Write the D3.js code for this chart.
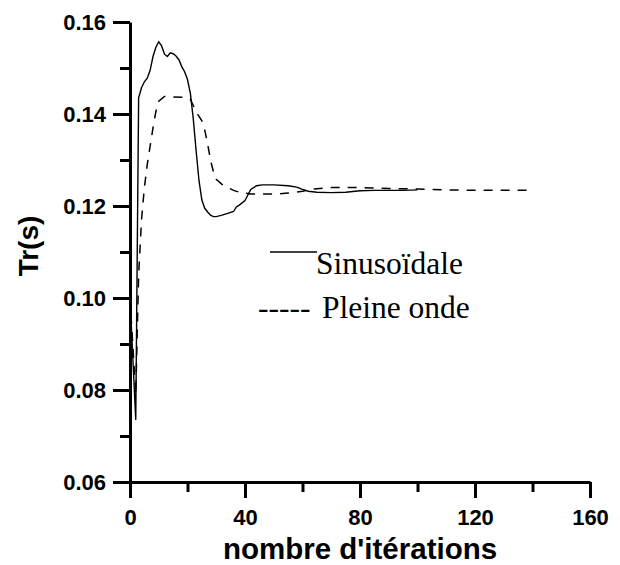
<!DOCTYPE html>
<html>
<head>
<meta charset="utf-8">
<script src="https://cdn.jsdelivr.net/npm/d3@7"></script>
<style>
  body { margin: 0; background: #fff; }
  svg { display: block; }
</style>
</head>
<body>
<svg id="chart" width="620" height="565"></svg>
<script>
// Response time Tr(s) versus iteration count, two supply modes.
const sinusIter = [0, 2, 3, 4, 5, 6, 7, 8, 9, 10, 11, 12, 13, 14, 15, 16, 17, 18, 19, 20, 21, 22, 23, 24, 25, 26, 27, 28, 29, 30, 32, 34, 36, 37, 38, 40, 42, 44, 46, 50, 55, 58, 60, 62, 65, 70, 75, 80, 85, 90, 95, 100];
const sinusTr = [0.100, 0.0735, 0.1435, 0.1457, 0.1470, 0.1478, 0.1495, 0.1525, 0.1545, 0.1557, 0.1548, 0.1530, 0.1525, 0.1533, 0.1531, 0.1526, 0.1518, 0.1503, 0.1492, 0.1475, 0.1445, 0.1390, 0.1320, 0.1255, 0.1213, 0.1195, 0.1187, 0.1180, 0.1177, 0.1177, 0.1180, 0.1184, 0.1188, 0.1198, 0.1202, 0.1212, 0.1236, 0.1244, 0.1246, 0.1246, 0.1244, 0.1241, 0.1236, 0.1232, 0.1230, 0.1229, 0.1230, 0.1233, 0.1234, 0.1234, 0.1234, 0.1235];

const pleineIter = [0, 2, 3, 4, 5, 6, 7, 8, 9, 10, 12, 15, 20, 21, 23, 25, 26, 27, 28, 29, 30, 32, 34, 36, 38, 42, 50, 55, 60, 64, 70, 80, 90, 100, 110, 120, 130, 138];
const pleineTr = [0.100, 0.0790, 0.1050, 0.1170, 0.1240, 0.1290, 0.1330, 0.1370, 0.1405, 0.1428, 0.1438, 0.1437, 0.1436, 0.1432, 0.1405, 0.1385, 0.1365, 0.1335, 0.1300, 0.1275, 0.1258, 0.1247, 0.1240, 0.1234, 0.1230, 0.1226, 0.1226, 0.1228, 0.1232, 0.1237, 0.1240, 0.1240, 0.1238, 0.1237, 0.1235, 0.1234, 0.1234, 0.1234];

const xMajorTicks = [0, 40, 80, 120, 160];
const xMinorTicks = [20, 60, 100, 140];
const yMajorTicks = [0.06, 0.08, 0.10, 0.12, 0.14, 0.16];
const yMinorTicks = [0.07, 0.09, 0.11, 0.13, 0.15];

const legendLabels = ["Sinusoïdale", "Pleine onde"];
const xTitle = "nombre d'itérations";
const yTitle = "Tr(s)";

const svg = d3.select("#chart");
const plot = { left: 130, right: 590, top: 22, bottom: 482 };

const x = d3.scaleLinear().domain([0, 160]).range([plot.left, plot.right]);
const y = d3.scaleLinear().domain([0.06, 0.16]).range([plot.bottom, plot.top]);

const tickFont = "'Liberation Sans', Arial, sans-serif";

// Minor ticks
svg.append("g")
  .attr("transform", `translate(0,${plot.bottom})`)
  .call(d3.axisBottom(x).tickValues(xMinorTicks).tickSize(10).tickSizeOuter(0).tickFormat(""))
  .call(g => g.select(".domain").remove())
  .call(g => g.selectAll("line").attr("stroke", "#000").attr("stroke-width", 3));
svg.append("g")
  .attr("transform", `translate(${plot.left},0)`)
  .call(d3.axisLeft(y).tickValues(yMinorTicks).tickSize(10).tickSizeOuter(0).tickFormat(""))
  .call(g => g.select(".domain").remove())
  .call(g => g.selectAll("line").attr("stroke", "#000").attr("stroke-width", 3));

// Major ticks with labels
const xAxis = svg.append("g")
  .attr("transform", `translate(0,${plot.bottom})`)
  .call(d3.axisBottom(x).tickValues(xMajorTicks).tickSize(16).tickSizeOuter(0).tickPadding(11).tickFormat(d3.format("d")));
const yAxis = svg.append("g")
  .attr("transform", `translate(${plot.left},0)`)
  .call(d3.axisLeft(y).tickValues(yMajorTicks).tickSize(17).tickSizeOuter(0).tickPadding(7).tickFormat(d3.format(".2f")));

[xAxis, yAxis].forEach(g => {
  g.select(".domain").attr("stroke", "#000").attr("stroke-width", 3);
  g.selectAll(".tick line").attr("stroke", "#000").attr("stroke-width", 3);
  g.selectAll(".tick text")
    .attr("fill", "#000")
    .style("font-family", tickFont)
    .style("font-weight", "bold")
    .style("font-size", "22px");
});

// Axis titles
svg.append("text")
  .attr("x", (plot.left + plot.right) / 2)
  .attr("y", 559)
  .attr("text-anchor", "middle")
  .style("font-family", tickFont)
  .style("font-weight", "bold")
  .style("font-size", "29.5px")
  .text(xTitle);
svg.append("text")
  .attr("transform", `translate(38,246) rotate(-90)`)
  .attr("text-anchor", "middle")
  .style("font-family", tickFont)
  .style("font-weight", "bold")
  .style("font-size", "28px")
  .text(yTitle);

// Curves
const line = d3.line().x(d => x(d[0])).y(d => y(d[1]));
const sinus = sinusIter.map((d, i) => [d, sinusTr[i]]);
const pleine = pleineIter.map((d, i) => [d, pleineTr[i]]);

svg.append("path")
  .datum(pleine)
  .attr("d", line)
  .attr("fill", "none")
  .attr("stroke", "#000")
  .attr("stroke-width", 1.5)
  .attr("stroke-dasharray", "9,8");
svg.append("path")
  .datum(sinus)
  .attr("d", line)
  .attr("fill", "none")
  .attr("stroke", "#000")
  .attr("stroke-width", 1.4);

// Legend
const serif = "'Liberation Serif', 'Times New Roman', serif";
svg.append("line")
  .attr("x1", 270).attr("x2", 317)
  .attr("y1", 252).attr("y2", 252)
  .attr("stroke", "#000").attr("stroke-width", 1.5);
svg.append("text")
  .attr("x", 316).attr("y", 274)
  .style("font-family", serif)
  .style("font-size", "31.5px")
  .text(legendLabels[0]);
svg.append("text")
  .attr("x", 258).attr("y", 318)
  .style("font-family", serif)
  .style("font-size", "31.5px")
  .text("-----");
svg.append("text")
  .attr("x", 322).attr("y", 318)
  .style("font-family", serif)
  .style("font-size", "31.5px")
  .text(legendLabels[1]);
</script>
</body>
</html>
